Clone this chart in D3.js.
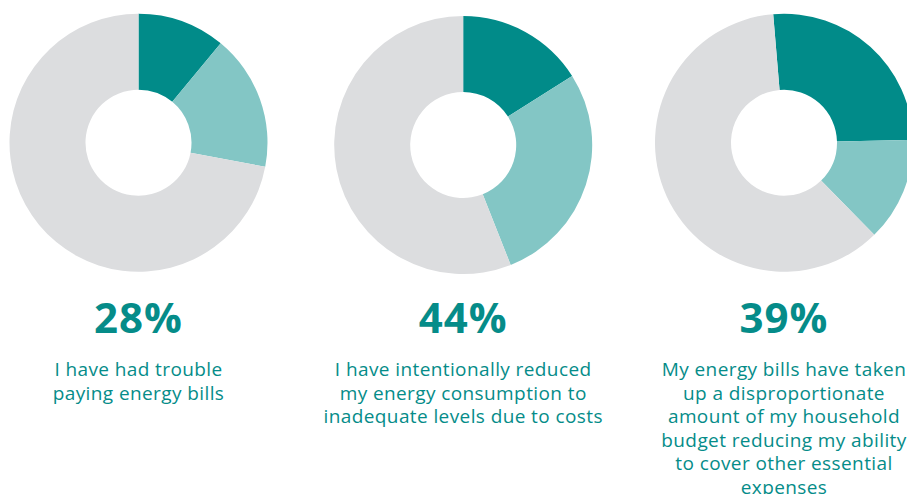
<!DOCTYPE html>
<html>
<head>
<meta charset="utf-8">
<script src="https://cdn.jsdelivr.net/npm/d3@7"></script>
<style>
  html, body { margin: 0; padding: 0; background: #fff; }
  svg { display: block; }
</style>
</head>
<body>
<svg width="907" height="494"></svg>
<script>
// Survey answers, one donut per statement
const headline = [28, 44, 39];            // % shown under each donut
const darkShare = [11, 16, 26];           // dark teal slice
const lightShare = [17, 28, 13];          // light teal slice
const statements = [
    ["I have had trouble", "paying energy bills"],
    ["I have intentionally reduced", "my energy consumption to", "inadequate levels due to costs"],
    ["My energy bills have taken", "up a disproportionate", "amount of my household", "budget reducing my ability", "to cover other essential", "expenses"]
];

const svg = d3.select("svg"),
    width = +svg.attr("width"),
    height = +svg.attr("height");

const colors = ["#018b89", "#83c6c5", "#dcdddf"];
const teal = "#058c89";

// panel centres
const centerX = [138.5, 463.2, 784];
const centerY = [142.7, 145, 142.7];
const rotate = [0, 0, -4.8];              // degrees, the third donut is slightly turned

const arc = d3.arc()
    .innerRadius(53)
    .outerRadius(129);

headline.forEach((total, i) => {
    const slices = [darkShare[i], lightShare[i], 100 - total];
    const off = rotate[i] * Math.PI / 180;
    const pie = d3.pie()
        .sort(null)
        .startAngle(off)
        .endAngle(2 * Math.PI + off);

    const g = svg.append("g")
        .attr("transform", `translate(${centerX[i]},${centerY[i]})`);

    g.selectAll("path")
        .data(pie(slices))
        .join("path")
        .attr("d", arc)
        .attr("fill", (d, j) => colors[j]);

    // big percentage
    svg.append("text")
        .attr("x", centerX[i])
        .attr("y", 333)
        .attr("text-anchor", "middle")
        .style("font-family", "'Open Sans', sans-serif")
        .style("font-weight", 700)
        .style("font-size", "42px")
        .style("letter-spacing", "1px")
        .style("fill", teal)
        .text(total + "%");

    // statement, one tspan per line
    const t = svg.append("text")
        .attr("text-anchor", "middle")
        .style("font-family", "'Open Sans', sans-serif")
        .style("font-size", "19px")
        .style("letter-spacing", "0.4px")
        .style("fill", teal);
    t.selectAll("tspan")
        .data(statements[i])
        .join("tspan")
        .attr("x", centerX[i])
        .attr("y", (d, j) => 376 + j * 23.5)
        .text(d => d);
});
</script>
</body>
</html>
